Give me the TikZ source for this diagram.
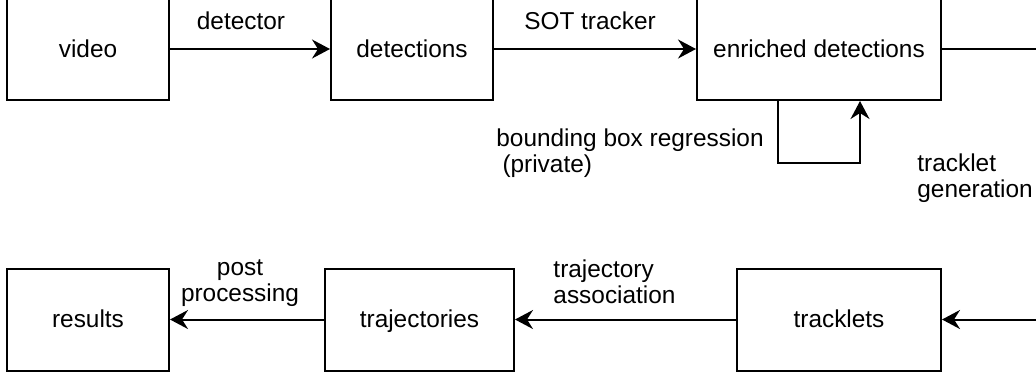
\documentclass[tikz,border=0pt]{standalone}
\usepackage{fontspec}
\setmainfont{Liberation Sans}
\usetikzlibrary{arrows.meta}
\tikzset{
  block/.style={draw, line width=1pt, minimum height=51pt, inner sep=0pt, text height=9.8pt, text depth=1.8pt},
  flow/.style={line width=1pt, -{Stealth[length=9pt,width=9.5pt,inset=3pt]}},
  lbl/.style={inner sep=0pt, text depth=0pt, align=left},
}
\begin{document}
\begin{tikzpicture}[x=0.5pt, y=-0.5pt, font=\fontsize{12.2}{13}\selectfont]
\useasboundingbox (0,0) rectangle (1036,377);
\node[block, minimum width=81pt] (video) at (88,49) {video};
\node[block, minimum width=81pt] (detections) at (412,49) {detections};
\node[block, minimum width=122pt] (enriched) at (819,49) {enriched detections};
\node[block, minimum width=102pt] (tracklets) at (839,319.5) {tracklets};
\node[block, minimum width=94.5pt] (trajectories) at (419.5,319.5) {trajectories};
\node[block, minimum width=81pt] (results) at (88,319.5) {results};
\coordinate (turn) at (1046,185);

\draw[flow] (video) -- (detections) node[lbl, midway, above=9.5pt, xshift=-4.5pt] {detector};
\draw[flow] (detections) -- (enriched) node[lbl, midway, above=9.5pt, xshift=-2.5pt] {SOT tracker};
\draw[flow] ([xshift=-20.5pt]enriched.south) -- ++(0,62) -| ([xshift=20.5pt]enriched.south);
\node[lbl, anchor=north west] (bbr) at (496,128) {bounding box regression\\\hspace{0.25em}(private)};
\draw[flow] (enriched) -| (turn) |- (tracklets);
\node[lbl, anchor=north west] (tgen) at (917,153) {tracklet\\generation};
\draw[flow] (tracklets) -- (trajectories) node[lbl, midway, above=7.5pt, xshift=-5.5pt] {trajectory\\association};
\draw[flow] (trajectories) -- (results) node[lbl, align=center, midway, above=8.5pt, xshift=-3.5pt] {post\\processing};
\end{tikzpicture}
\end{document}
